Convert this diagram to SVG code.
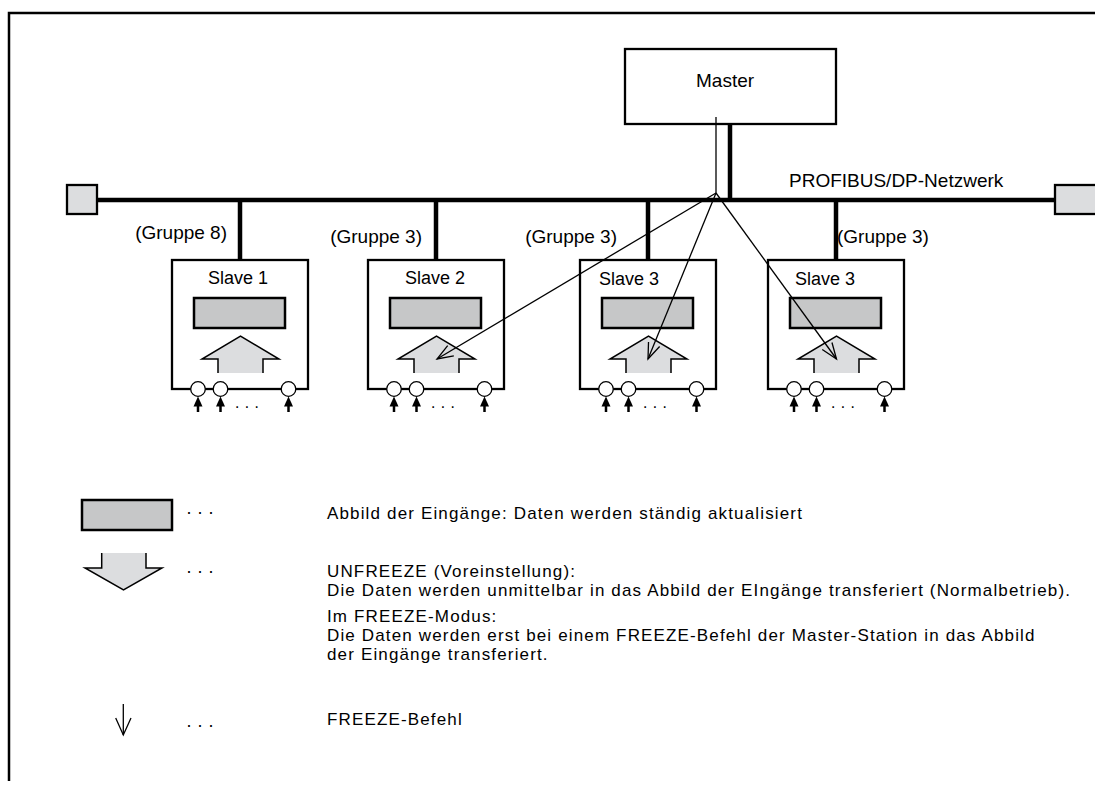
<svg xmlns="http://www.w3.org/2000/svg" xmlns:xlink="http://www.w3.org/1999/xlink" width="1095" height="785" viewBox="0 0 1095 785">
<style>
.t{font-family:"Liberation Sans",Arial,sans-serif;font-size:19px;fill:#000}
.s{font-family:"Liberation Sans",Arial,sans-serif;font-size:18px;fill:#000}
.l{font-family:"Liberation Sans",Arial,sans-serif;font-size:17px;letter-spacing:1.15px;fill:#000}
.dl{font-family:"Liberation Sans",Arial,sans-serif;font-size:18px;fill:#000}
.d{font-family:"Liberation Sans",Arial,sans-serif;font-size:16px;fill:#000}
.box{fill:#fff;stroke:#000;stroke-width:2.3}
.img{fill:#c6c7c8;stroke:#000;stroke-width:2.5}
.af{fill:#dcdddf;stroke:none}
.as{fill:none;stroke:#000;stroke-width:1.5;stroke-linejoin:miter}
.term{fill:#dcdddf;stroke:#000;stroke-width:2.3}
.bus{stroke:#000;stroke-width:4.5;fill:none}
.thin{stroke:#000;stroke-width:1.3;fill:none}
.io{fill:#fff;stroke:#000;stroke-width:1.3}
.in{stroke:#000;stroke-width:2.5}
.frame{fill:none;stroke:#000;stroke-width:2.5}
</style>
<defs>
<marker id="open" markerUnits="userSpaceOnUse" markerWidth="20" markerHeight="14" refX="16" refY="6" orient="auto" overflow="visible">
<path d="M0,0 L16,6 L0,12" fill="none" stroke="#000" stroke-width="1.3"/>
</marker>
<g id="slaveBody">
<rect class="box" x="0" y="260" width="136" height="129"/>
<rect class="img" x="22" y="298" width="91" height="30"/>
<polygon class="af" points="68.5,336 107,359 91,359 91,373 46,373 46,359 30,359"/>
<polyline class="as" points="46,373 46,359 30,359 68.5,336 107,359 91,359 91,373"/>
<circle class="io" cx="26" cy="389" r="7.3"/>
<circle class="io" cx="48.5" cy="389" r="7.3"/>
<circle class="io" cx="116.5" cy="389" r="7.3"/>
<line class="in" x1="26" y1="405" x2="26" y2="412"/>
<polygon points="21.5,406.5 30.5,406.5 26,396.5"/>
<line class="in" x1="48.5" y1="405" x2="48.5" y2="412"/>
<polygon points="44,406.5 53,406.5 48.5,396.5"/>
<line class="in" x1="116.5" y1="405" x2="116.5" y2="412"/>
<polygon points="112,406.5 121,406.5 116.5,396.5"/>
<text class="d" x="75" y="412" text-anchor="middle">· · ·</text>
</g>
</defs>

<path class="frame" d="M9,781 L9,13 L1095,13"/>

<g id="terminator-left"><rect class="term" x="67" y="185" width="30" height="29"/></g>
<g id="terminator-right"><rect class="term" x="1055" y="185" width="45" height="29"/></g>
<g id="network-label"><text class="t" x="789" y="187">PROFIBUS/DP-Netzwerk</text></g>

<g id="master">
<rect class="box" x="625" y="49" width="211" height="75"/>
<text class="t" x="696" y="87">Master</text>
</g>

<g id="slave1">
<use xlink:href="#slaveBody" href="#slaveBody" transform="translate(172,0)"/>
<text class="s" x="208" y="284">Slave 1</text>
<text class="t" x="227" y="239" text-anchor="end">(Gruppe 8)</text>
</g>
<g id="slave2">
<use xlink:href="#slaveBody" href="#slaveBody" transform="translate(368,0)"/>
<text class="s" x="405" y="284">Slave 2</text>
<text class="t" x="422" y="243" text-anchor="end">(Gruppe 3)</text>
</g>
<g id="slave3a">
<use xlink:href="#slaveBody" href="#slaveBody" transform="translate(580,0)"/>
<text class="s" x="599" y="285">Slave 3</text>
<text class="t" x="617" y="243" text-anchor="end">(Gruppe 3)</text>
</g>
<g id="slave3b">
<use xlink:href="#slaveBody" href="#slaveBody" transform="translate(768,0)"/>
<text class="s" x="795" y="285">Slave 3</text>
<text class="t" x="837" y="243">(Gruppe 3)</text>
</g>

<g id="connectors">
<line class="bus" x1="97" y1="200" x2="1055" y2="200"/>
<line class="bus" x1="240" y1="200" x2="240" y2="260"/>
<line class="bus" x1="436" y1="200" x2="436" y2="260"/>
<line class="bus" x1="648" y1="200" x2="648" y2="260"/>
<line class="bus" x1="836" y1="200" x2="836" y2="260"/>
<line class="bus" x1="730" y1="124" x2="730" y2="200"/>
<line class="thin" x1="716" y1="117" x2="716" y2="193"/>
<line class="thin" x1="716" y1="193" x2="437" y2="359" marker-end="url(#open)"/>
<line class="thin" x1="716" y1="193" x2="648" y2="359" marker-end="url(#open)"/>
<line class="thin" x1="716" y1="193" x2="836.5" y2="359" marker-end="url(#open)"/>
</g>

<g id="legend">
<rect class="img" x="82" y="500" width="90" height="30"/>
<text class="dl" x="186" y="518">· · ·</text>
<text class="l" x="327" y="519">Abbild der Eingänge: Daten werden ständig aktualisiert</text>

<polygon class="af" points="101.7,553 101.7,568 85,568 123.5,590 162,568 146,568 146,553"/>
<polyline class="as" points="101.7,553 101.7,568 85,568 123.5,590 162,568 146,568 146,553"/>
<text class="dl" x="186" y="577">· · ·</text>
<text class="l" x="327" y="577">UNFREEZE (Voreinstellung):</text>
<text class="l" x="327" y="596">Die Daten werden unmittelbar in das Abbild der EIngänge transferiert (Normalbetrieb).</text>
<text class="l" x="327" y="622">Im FREEZE-Modus:</text>
<text class="l" x="327" y="641">Die Daten werden erst bei einem FREEZE-Befehl der Master-Station in das Abbild</text>
<text class="l" x="327" y="660">der Eingänge transferiert.</text>

<line class="thin" x1="123.3" y1="704" x2="123.3" y2="735"/>
<path class="thin" d="M115.7,718 L123.3,735 L131,718"/>
<text class="dl" x="186" y="731">· · ·</text>
<text class="l" x="327" y="725">FREEZE-Befehl</text>
</g>
</svg>
